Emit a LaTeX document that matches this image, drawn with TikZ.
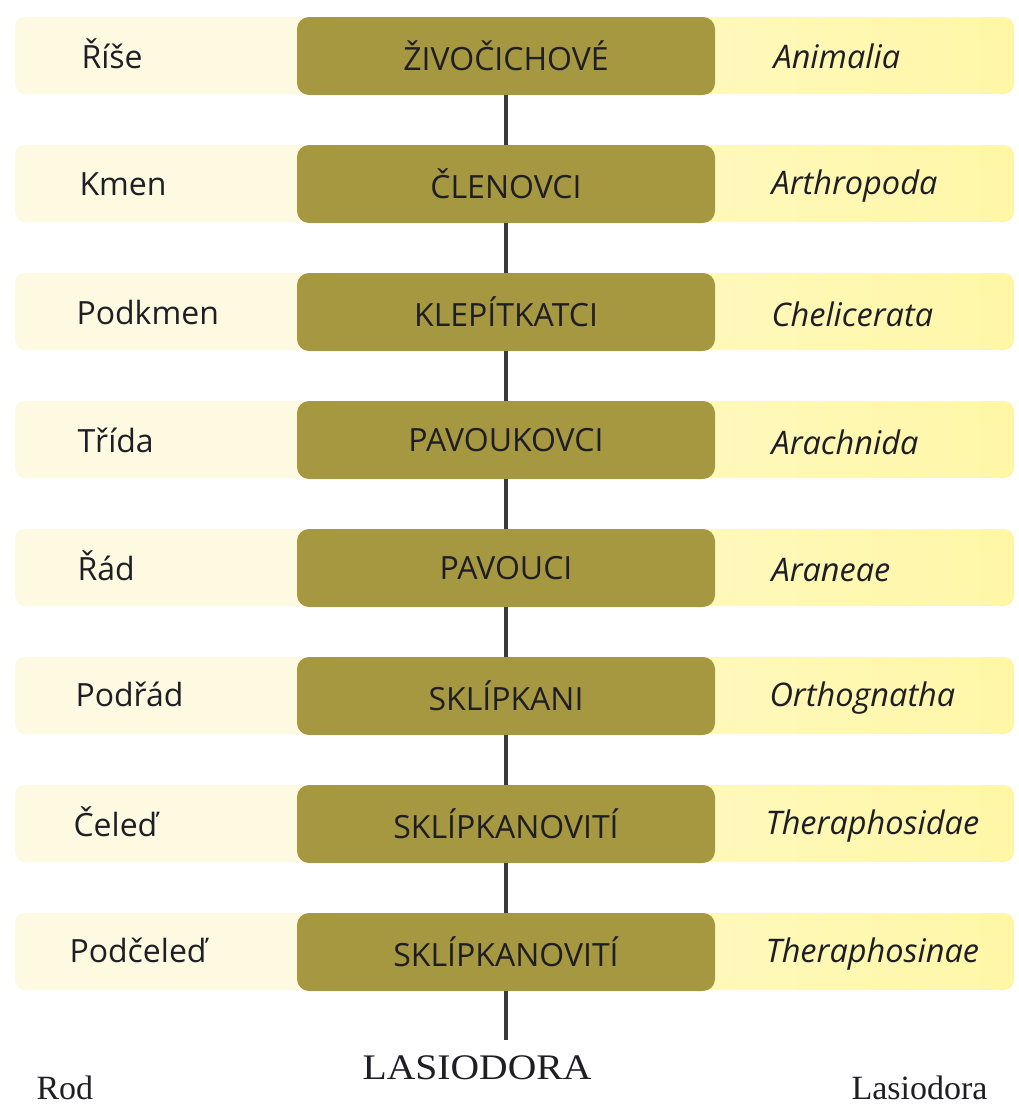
\documentclass[tikz,border=0pt]{standalone}
\usepackage{fontspec}
\setmainfont{Open Sans}
\newfontfamily\serifrm{Liberation Serif}
\definecolor{olive}{HTML}{A69840}
\definecolor{cream}{HTML}{FEFAE2}
\definecolor{lemon}{HTML}{FFF7A6}
\definecolor{stem}{HTML}{3A3A3A}
\definecolor{ink}{HTML}{1E1E24}
\tikzset{
  taxbox/.style={rounded corners=12pt, fill=olive, draw=none, minimum width=418pt, minimum height=78pt, font=\fontsize{32}{35}\selectfont, text=ink, inner sep=0pt},
  rank/.style={anchor=west, font=\fontsize{32}{35}\selectfont, text=ink},
  latin/.style={anchor=west, font=\fontsize{32.5}{35}\selectfont\itshape, text=ink},
  stemline/.style={draw=stem, line width=4pt},
  bottomtxt/.style={font=\serifrm\fontsize{36}{40}\selectfont, text=ink},
  bottomsm/.style={font=\serifrm\fontsize{34}{38}\selectfont, text=ink}
}
\begin{document}
\begin{tikzpicture}[x=1pt,y=-1pt]
\useasboundingbox (0,0) rectangle (1019,1106);
\fill[white] (0,0) rectangle (1019,1106);
% bands
\foreach \i in {0,...,7}{
  \pgfmathsetmacro{\yc}{56+128*\i}
  \shade[left color=cream, right color=cream] (15,\yc-39) [rounded corners=10pt] -- (15,\yc+38) -- (506,\yc+38) -- (506,\yc-39) -- cycle;
  \shade[left color=cream!60!lemon, right color=lemon] (506,\yc-39) [rounded corners=10pt] -- (506,\yc+38) -- (1014,\yc+38) -- (1014,\yc-39) -- cycle;
}
\coordinate (end) at (506,1040);
\node[taxbox] (b1) at (506,56)  {ŽIVOČICHOVÉ};
\node[taxbox] (b2) at (506,184) {ČLENOVCI};
\node[taxbox] (b3) at (506,312) {KLEPÍTKATCI};
\node[taxbox] (b4) at (506,440) {PAVOUKOVCI};
\node[taxbox] (b5) at (506,568) {PAVOUCI};
\node[taxbox] (b6) at (506,696) {SKLÍPKANI};
\node[taxbox] (b7) at (506,824) {SKLÍPKANOVITÍ};
\node[taxbox] (b8) at (506,952) {SKLÍPKANOVITÍ};
\draw[stemline] (b1.south) -- (b2.north);
\draw[stemline] (b2.south) -- (b3.north);
\draw[stemline] (b3.south) -- (b4.north);
\draw[stemline] (b4.south) -- (b5.north);
\draw[stemline] (b5.south) -- (b6.north);
\draw[stemline] (b6.south) -- (b7.north);
\draw[stemline] (b7.south) -- (b8.north);
\draw[stemline] (b8.south) -- (end);
% rank labels
\node[rank] (r1) at (78,54)  {Říše};
\node[rank] (r2) at (76,184) {Kmen};
\node[rank] (r3) at (73,312) {Podkmen};
\node[rank] (r4) at (74,440) {Třída};
\node[rank] (r5) at (74,566) {Řád};
\node[rank] (r6) at (72,694) {Podřád};
\node[rank] (r7) at (70,822) {Čeleď};
\node[rank] (r8) at (66,950) {Podčeleď};
% latin names
\node[latin] (l1) at (770,56)  {Animalia};
\node[latin] (l2) at (768,186) {Arthropoda};
\node[latin] (l3) at (768,314) {Chelicerata};
\node[latin] (l4) at (768,442) {Arachnida};
\node[latin] (l5) at (768,570) {Araneae};
\node[latin] (l6) at (766,698) {Orthognatha};
\node[latin] (l7) at (762,826) {Theraphosidae};
\node[latin] (l8) at (762,954) {Theraphosinae};
% bottom
\node[bottomtxt, xscale=1.1, transform shape] (genus) at (477,1068) {LASIODORA};
\node[bottomsm, anchor=west] (rod) at (33,1088) {Rod};
\node[bottomsm, anchor=west] (gen) at (848,1088) {Lasiodora};
\end{tikzpicture}
\end{document}
